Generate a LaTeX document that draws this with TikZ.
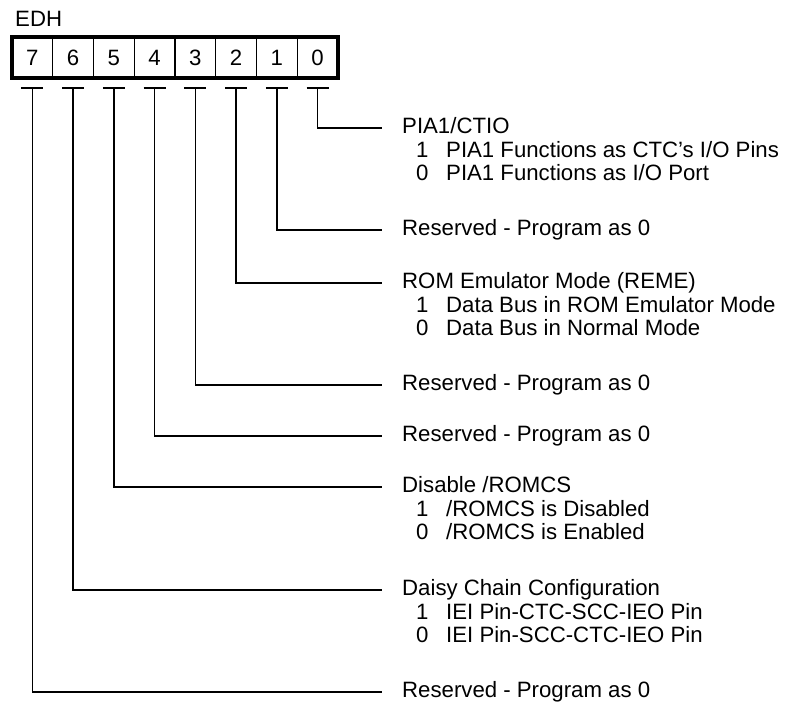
\documentclass[tikz,border=0pt]{standalone}
\usepackage{fontspec}
\setmainfont{Liberation Sans}
\begin{document}
\begin{tikzpicture}[x=1pt,y=-1pt,
  font=\fontsize{22.2}{26}\selectfont,
  cell/.style={minimum width=40.75pt,minimum height=41pt,inner sep=0pt,draw,line width=1.3pt},
  conn/.style={line width=1.5pt},
  tbar/.style={line width=2pt},
  head/.style={anchor=west,inner xsep=20pt,inner ysep=0pt,text height=11pt,text depth=0pt},
  val/.style={anchor=base west,inner sep=0pt},
  desc/.style={anchor=base west,inner sep=0pt}]
\useasboundingbox (0,0) rectangle (789,707);
\node[anchor=base west,inner sep=0pt] (edh) at (15,26.5) {EDH};
% register cells
\foreach \b [count=\i from 0] in {7,6,5,4,3,2,1,0}{
  \node[cell] (b\b) at ({12+40.75*(\i+0.5)},57.5) {\b};
}
\draw[line width=4pt] (12,37) rectangle (338,78);
% T bars
\foreach \b in {7,6,5,4,3,2,1,0}{
  \coordinate (t\b) at ([yshift=-9.5pt]b\b.south);
  \draw[tbar] ([xshift=-11pt]t\b) -- ([xshift=11pt]t\b);
}
% headings (west point = end of connector at x=382)
\node[head] (h0) at (382,128) {PIA1/CTIO};
\node[head] (h1) at (382,230) {Reserved - Program as 0};
\node[head] (h2) at (382,283) {ROM Emulator Mode (REME)};
\node[head] (h3) at (382,385) {Reserved - Program as 0};
\node[head] (h4) at (382,436) {Reserved - Program as 0};
\node[head] (h5) at (382,487) {Disable /ROMCS};
\node[head] (h6) at (382,590) {Daisy Chain Configuration};
\node[head] (h7) at (382,692) {Reserved - Program as 0};
% sub lines
\node[val] (v0a) at (416,{128+29.5}) {1};
\node[desc] (d0a) at (446,{128+29.5}) {PIA1 Functions as CTC{\char"27}s I/O Pins};
\node[val] (v0b) at (416,{128+52.5}) {0};
\node[desc] (d0b) at (446,{128+52.5}) {PIA1 Functions as I/O Port};
\node[val] (v2a) at (416,{283+29.5}) {1};
\node[desc] (d2a) at (446,{283+29.5}) {Data Bus in ROM Emulator Mode};
\node[val] (v2b) at (416,{283+52.5}) {0};
\node[desc] (d2b) at (446,{283+52.5}) {Data Bus in Normal Mode};
\node[val] (v5a) at (416,{487+29.5}) {1};
\node[desc] (d5a) at (446,{487+29.5}) {/ROMCS is Disabled};
\node[val] (v5b) at (416,{487+52.5}) {0};
\node[desc] (d5b) at (446,{487+52.5}) {/ROMCS is Enabled};
\node[val] (v6a) at (416,{590+29.5}) {1};
\node[desc] (d6a) at (446,{590+29.5}) {IEI Pin-CTC-SCC-IEO Pin};
\node[val] (v6b) at (416,{590+52.5}) {0};
\node[desc] (d6b) at (446,{590+52.5}) {IEI Pin-SCC-CTC-IEO Pin};
% connectors
\foreach \b in {7,6,5,4,3,2,1,0}{
  \draw[conn] (t\b) |- (h\b.west);
}
\end{tikzpicture}
\end{document}
